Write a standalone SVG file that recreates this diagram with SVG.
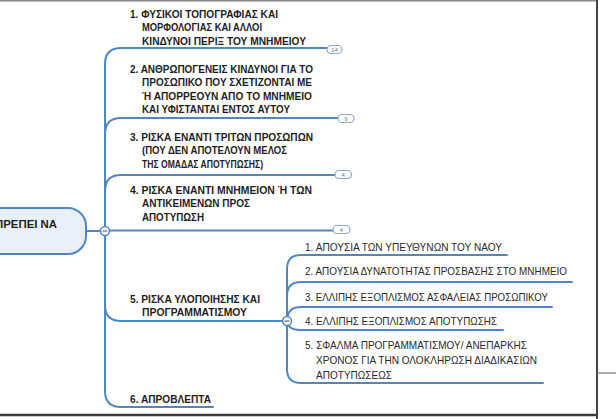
<svg xmlns="http://www.w3.org/2000/svg" width="616" height="419" viewBox="0 0 616 419">
<style>
.ln{fill:none;stroke:#4f87c6;stroke-width:2;stroke-linecap:round}
.b{font-family:"Liberation Sans",Arial,sans-serif;font-weight:bold;font-size:10.5px;fill:#1e1e1e}
.r{font-family:"Liberation Sans",Arial,sans-serif;font-size:10.5px;fill:#2a2a2a}
.badge{fill:#fff;stroke:#8aaad0;stroke-width:1.2}
.bt{font-family:"Liberation Sans",Arial,sans-serif;font-size:6px;fill:#777;text-anchor:middle}
.col{fill:#fff;stroke:#4f87c6;stroke-width:1.5}
.minus{stroke:#666;stroke-width:1.2}
</style>
<rect x="0" y="0" width="616" height="419" fill="#fff"/>
<g id="frame">
<line x1="0" y1="0.7" x2="597" y2="0.7" stroke="#888" stroke-width="1.5"/>
<line x1="597" y1="0" x2="597" y2="419" stroke="#444" stroke-width="2"/>
<line x1="597" y1="373" x2="616" y2="373" stroke="#777" stroke-width="1.2"/>
<line x1="0" y1="415" x2="597" y2="415" stroke="#3a3a3a" stroke-width="2.5"/>
</g>
<g id="connectors">
<path class="ln" d="M86,231 H100"/>
<path class="ln" d="M105,231 V64 Q105,48 121,48 H327"/>
<path class="ln" d="M105,231 V134 Q105,118 121,118 H338"/>
<path class="ln" d="M105,231 V191 Q105,175 121,175 H335"/>
<path class="ln" d="M110,230.5 H333"/>
<path class="ln" d="M105,231 V305 Q105,321 121,321 H282"/>
<path class="ln" d="M105,231 V391 Q105,407 121,407 H213"/>
<path class="ln" d="M287,321 V269 Q287,255 301,255 H507"/>
<path class="ln" d="M287,321 V296 Q287,282 301,282 H572"/>
<path class="ln" d="M287,321 Q287,307 301,307 H552"/>
<path class="ln" d="M287,321 Q288,330 300,330 H503"/>
<path class="ln" d="M287,321 V369 Q287,383 301,383 H543"/>
</g>
<g id="root">
<rect x="-20" y="208" width="106" height="46" rx="18" fill="#e8f1fb" stroke="#4f87c6" stroke-width="2"/>
<text class="b" x="-5" y="227.5" textLength="62" lengthAdjust="spacingAndGlyphs">ΠΡΕΠΕΙ ΝΑ</text>
<circle class="col" cx="105" cy="231" r="4.5"/>
<line class="minus" x1="102.5" y1="231" x2="107.5" y2="231"/>
</g>
<g id="item1">
<text class="b" x="130" y="17.5" textLength="148" lengthAdjust="spacingAndGlyphs">1. ΦΥΣΙΚΟΙ ΤΟΠΟΓΡΑΦΙΑΣ ΚΑΙ</text>
<text class="b" x="142" y="31" textLength="120" lengthAdjust="spacingAndGlyphs">ΜΟΡΦΟΛΟΓΙΑΣ ΚΑΙ ΑΛΛΟΙ</text>
<text class="b" x="142" y="44.5" textLength="164" lengthAdjust="spacingAndGlyphs">ΚΙΝΔΥΝΟΙ ΠΕΡΙΞ ΤΟΥ ΜΝΗΜΕΙΟΥ</text>
<rect class="badge" x="327" y="45.5" width="15" height="8" rx="4"/>
<text class="bt" x="334.5" y="51.6">14</text>
</g>
<g id="item2">
<text class="b" x="130" y="72.5" textLength="183" lengthAdjust="spacingAndGlyphs">2. ΑΝΘΡΩΠΟΓΕΝΕΙΣ ΚΙΝΔΥΝΟΙ ΓΙΑ ΤΟ</text>
<text class="b" x="142" y="86" textLength="170" lengthAdjust="spacingAndGlyphs">ΠΡΟΣΩΠΙΚΟ ΠΟΥ ΣΧΕΤΙΖΟΝΤΑΙ ΜΕ</text>
<text class="b" x="142" y="99.5" textLength="170" lengthAdjust="spacingAndGlyphs">Ή ΑΠΟΡΡΕΟΥΝ ΑΠΟ ΤΟ ΜΝΗΜΕΙΟ</text>
<text class="b" x="142" y="113" textLength="148" lengthAdjust="spacingAndGlyphs">ΚΑΙ ΥΦΙΣΤΑΝΤΑΙ ΕΝΤΟΣ ΑΥΤΟΥ</text>
<rect class="badge" x="338" y="114.5" width="16" height="8" rx="4"/>
<text class="bt" x="346" y="120.6">9</text>
</g>
<g id="item3">
<text class="b" x="130" y="140.5" textLength="183" lengthAdjust="spacingAndGlyphs">3. ΡΙΣΚΑ ΕΝΑΝΤΙ ΤΡΙΤΩΝ ΠΡΟΣΩΠΩΝ</text>
<text class="b" x="142" y="154" textLength="145" lengthAdjust="spacingAndGlyphs">(ΠΟΥ ΔΕΝ ΑΠΟΤΕΛΟΥΝ ΜΕΛΟΣ</text>
<text class="b" x="142" y="167.5" textLength="121" lengthAdjust="spacingAndGlyphs">ΤΗΣ ΟΜΑΔΑΣ ΑΠΟΤΥΠΩΣΗΣ)</text>
<rect class="badge" x="335" y="170.5" width="16.5" height="8" rx="4"/>
<text class="bt" x="343.2" y="176.6">4</text>
</g>
<g id="item4">
<text class="b" x="130" y="193.5" textLength="182" lengthAdjust="spacingAndGlyphs">4. ΡΙΣΚΑ ΕΝΑΝΤΙ ΜΝΗΜΕΙΟΝ Ή ΤΩΝ</text>
<text class="b" x="142" y="207" textLength="108" lengthAdjust="spacingAndGlyphs">ΑΝΤΙΚΕΙΜΕΝΩΝ ΠΡΟΣ</text>
<text class="b" x="142" y="220.5" textLength="62" lengthAdjust="spacingAndGlyphs">ΑΠΟΤΥΠΩΣΗ</text>
<rect class="badge" x="333" y="225.5" width="17" height="8" rx="4"/>
<text class="bt" x="341.5" y="231.6">4</text>
</g>
<g id="item5">
<text class="b" x="130" y="302.5" textLength="130" lengthAdjust="spacingAndGlyphs">5. ΡΙΣΚΑ ΥΛΟΠΟΙΗΣΗΣ ΚΑΙ</text>
<text class="b" x="142" y="315.5" textLength="105" lengthAdjust="spacingAndGlyphs">ΠΡΟΓΡΑΜΜΑΤΙΣΜΟΥ</text>
<circle class="col" cx="287" cy="321" r="4.5"/>
<line class="minus" x1="284.5" y1="321" x2="289.5" y2="321"/>
</g>
<g id="item6">
<text class="b" x="130" y="402.5" textLength="81" lengthAdjust="spacingAndGlyphs">6. ΑΠΡΟΒΛΕΠΤΑ</text>
</g>
<g id="sub1">
<text class="r" x="305" y="250.5" textLength="197" lengthAdjust="spacingAndGlyphs">1. ΑΠΟΥΣΙΑ ΤΩΝ ΥΠΕΥΘΥΝΩΝ ΤΟΥ ΝΑΟΥ</text>
</g>
<g id="sub2">
<text class="r" x="305" y="275" textLength="262" lengthAdjust="spacingAndGlyphs">2. ΑΠΟΥΣΙΑ ΔΥΝΑΤΟΤΗΤΑΣ ΠΡΟΣΒΑΣΗΣ ΣΤΟ ΜΝΗΜΕΙΟ</text>
</g>
<g id="sub3">
<text class="r" x="305" y="300.5" textLength="243" lengthAdjust="spacingAndGlyphs">3. ΕΛΛΙΠΗΣ ΕΞΟΠΛΙΣΜΟΣ ΑΣΦΑΛΕΙΑΣ ΠΡΟΣΩΠΙΚΟΥ</text>
</g>
<g id="sub4">
<text class="r" x="305" y="325" textLength="192" lengthAdjust="spacingAndGlyphs">4. ΕΛΛΙΠΗΣ ΕΞΟΠΛΙΣΜΟΣ ΑΠΟΤΥΠΩΣΗΣ</text>
</g>
<g id="sub5">
<text class="r" x="305" y="349" textLength="222" lengthAdjust="spacingAndGlyphs">5. ΣΦΑΛΜΑ ΠΡΟΓΡΑΜΜΑΤΙΣΜΟΥ/ ΑΝΕΠΑΡΚΗΣ</text>
<text class="r" x="316" y="364" textLength="221" lengthAdjust="spacingAndGlyphs">ΧΡΟΝΟΣ ΓΙΑ ΤΗΝ ΟΛΟΚΛΗΡΩΣΗ ΔΙΑΔΙΚΑΣΙΩΝ</text>
<text class="r" x="316" y="378.5" textLength="76" lengthAdjust="spacingAndGlyphs">ΑΠΟΤΥΠΩΣΕΩΣ</text>
</g>
</svg>
